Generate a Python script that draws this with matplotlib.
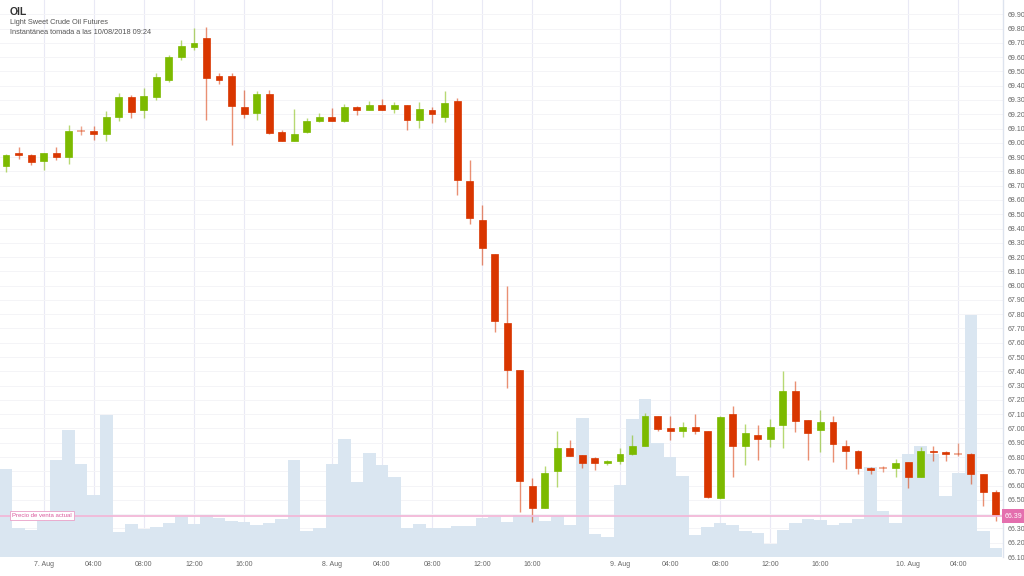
import matplotlib
matplotlib.use("Agg")
import matplotlib.pyplot as plt
import numpy as np

# hourly candles, 6 Aug 20:00 -> 10 Aug 07:00 (ordinal axis, daily break skipped)
opens = [68.84, 68.931, 68.912, 68.87, 68.931, 68.898, 69.08, 69.08, 69.059, 69.183,
         69.323, 69.232, 69.323, 69.442, 69.603, 69.673, 69.736, 69.47, 69.47, 69.25,
         69.209, 69.342, 69.073, 69.01, 69.076, 69.15, 69.181, 69.15, 69.25, 69.232,
         69.262, 69.239, 69.262, 69.162, 69.232, 69.181, 69.29, 68.735, 68.462, 68.222,
         67.739, 67.412, 66.60, 66.44, 66.70, 66.864, 66.813, 66.794, 66.76, 66.77,
         66.822, 66.876, 67.09, 67.0, 66.98, 67.011, 66.98, 66.514, 67.102, 66.88,
         66.957, 66.929, 67.022, 67.26, 67.057, 66.987, 67.043, 66.88, 66.845, 66.72,
         66.72, 66.72, 66.764, 66.659, 66.845, 66.833, 66.822, 66.822, 66.678, 66.554]
highs = [68.924, 68.973, 68.924, 68.931, 68.973, 69.122, 69.12, 69.12, 69.225, 69.351,
         69.337, 69.386, 69.491, 69.617, 69.722, 69.806, 69.813, 69.491, 69.491, 69.372,
         69.365, 69.372, 69.092, 69.239, 69.174, 69.209, 69.244, 69.274, 69.255, 69.295,
         69.309, 69.283, 69.267, 69.283, 69.25, 69.36, 69.314, 68.882, 68.562, 68.222,
         68.0, 67.412, 66.65, 66.736, 66.985, 66.922, 66.813, 66.80, 66.782, 66.864,
         66.953, 67.11, 67.09, 67.09, 67.043, 67.104, 66.98, 67.09, 67.16, 67.032,
         67.027, 67.069, 67.40, 67.335, 67.057, 67.132, 67.09, 66.922, 66.852, 66.731,
         66.74, 66.787, 66.764, 66.871, 66.88, 66.84, 66.899, 66.829, 66.678, 66.568]
lows = [68.793, 68.887, 68.842, 68.812, 68.882, 68.854, 69.052, 69.022, 69.015, 69.155,
        69.176, 69.176, 69.302, 69.428, 69.582, 69.652, 69.162, 69.414, 68.987, 69.174,
        69.162, 69.062, 69.01, 69.01, 69.069, 69.143, 69.15, 69.146, 69.192, 69.227,
        69.227, 69.209, 69.092, 69.104, 69.138, 69.146, 68.637, 68.434, 68.147, 67.676,
        67.284, 66.414, 66.344, 66.44, 66.591, 66.806, 66.724, 66.712, 66.743, 66.752,
        66.817, 66.876, 66.98, 66.922, 66.941, 66.962, 66.514, 66.514, 66.661, 66.743,
        66.778, 66.871, 66.864, 66.973, 66.778, 66.834, 66.766, 66.719, 66.683, 66.678,
        66.694, 66.661, 66.58, 66.659, 66.775, 66.775, 66.81, 66.614, 66.456, 66.35]
closes = [68.912, 68.912, 68.863, 68.931, 68.90, 69.08, 69.08, 69.059, 69.181, 69.323,
          69.217, 69.33, 69.463, 69.603, 69.68, 69.701, 69.456, 69.442, 69.26, 69.204,
          69.342, 69.069, 69.01, 69.064, 69.15, 69.181, 69.15, 69.25, 69.232, 69.262,
          69.232, 69.267, 69.162, 69.239, 69.204, 69.279, 68.742, 68.474, 68.264, 67.75,
          67.407, 66.631, 66.44, 66.69, 66.864, 66.806, 66.76, 66.76, 66.773, 66.822,
          66.88, 67.09, 66.997, 66.98, 67.011, 66.98, 66.521, 67.081, 66.88, 66.969,
          66.927, 67.011, 67.26, 67.05, 66.969, 67.043, 66.892, 66.84, 66.72, 66.708,
          66.72, 66.76, 66.661, 66.84, 66.833, 66.822, 66.822, 66.678, 66.554, 66.393]
volumes = [880, 290, 270, 363, 970, 1270, 930, 620, 1423, 250,
           330, 280, 300, 340, 400, 330, 420, 390, 360, 350,
           320, 340, 380, 970, 263, 290, 930, 1180, 750, 1043,
           920, 800, 290, 330, 293, 290, 310, 313, 393, 400,
           350, 420, 410, 360, 410, 320, 1390, 230, 200, 720,
           1380, 1580, 1140, 1000, 810, 223, 303, 340, 320, 263,
           243, 130, 270, 343, 377, 370, 320, 340, 380, 900,
           460, 343, 1030, 1113, 1030, 610, 840, 2420, 260, 90]

tick_pos = [3, 7, 11, 15, 19, 26, 30, 34, 38, 42, 49, 53, 57, 61, 65, 72, 76]
tick_labels = ["7. Aug", "04:00", "08:00", "12:00", "16:00", "8. Aug", "04:00", "08:00",
               "12:00", "16:00", "9. Aug", "04:00", "08:00", "12:00", "16:00", "10. Aug", "04:00"]
current_price = 66.39

GREEN = "#7cba00"
RED = "#d93600"
VOL = "#dae6f1"
PINK = "#e46fae"
plt.rcParams["font.family"] = ["Liberation Sans", "DejaVu Sans"]

fig = plt.figure(figsize=(10.24, 5.76), dpi=100)
rect = [0, 19 / 576, 1003 / 1024, 557 / 576]
xlim = (-0.48, 79.57)
ylim = (66.10, 70.0)

# base axis: grid + ticks
ax = fig.add_axes(rect)
ax.set_xlim(xlim)
ax.set_ylim(ylim)
ax.yaxis.tick_right()
yt = np.round(np.arange(66.1, 69.95, 0.1), 2)
ax.set_yticks(yt)
# 66.40 sits under the current-price tag
ax.set_yticklabels(["" if abs(v - 66.4) < 1e-6 else "%.2f" % v for v in yt])
ax.set_xticks(tick_pos)
ax.set_xticklabels(tick_labels)
ax.tick_params(axis="both", length=0, labelsize=5, labelcolor="#666666")
ax.tick_params(axis="y", pad=3)
ax.tick_params(axis="x", pad=3)
ax.grid(axis="y", color="#f4f4f7", lw=0.7)
ax.grid(axis="x", color="#e9e9f5", lw=0.8)
for s in ["top", "left", "bottom"]:
    ax.spines[s].set_visible(False)
ax.spines["right"].set_color("#dde3ee")
ax.spines["right"].set_linewidth(1)

# volume layer
axv = fig.add_axes(rect, sharex=ax)
axv.patch.set_visible(False)
axv.bar(np.arange(len(volumes)), volumes, width=1.0, color=VOL, linewidth=0)
axv.set_ylim(0, 5570)
axv.axis("off")

# candle layer
axc = fig.add_axes(rect, sharex=ax)
axc.patch.set_visible(False)
axc.set_ylim(ylim)
axc.axis("off")
for i in range(len(opens)):
    o, h, l, c = opens[i], highs[i], lows[i], closes[i]
    col = GREEN if c > o else RED
    if abs(c - o) < 0.002:
        axc.vlines(i, l, h, color=RED, alpha=0.45, lw=1)
        axc.hlines(o, i - 0.32, i + 0.32, color=RED, alpha=0.45, lw=1.2)
        continue
    axc.vlines(i, l, h, color=col, alpha=0.55, lw=1)
    axc.bar(i, abs(c - o), bottom=min(o, c), width=0.55, color=col,
            edgecolor=col, linewidth=0.5, alpha=1)

# current price line
axc.axhline(current_price, color="#f2b8d8", lw=1.3, zorder=5)
axc.text(0.5, current_price, "Precio de venta actual", fontsize=4.3, color="#d9589c",
         va="center", ha="left", zorder=6,
         bbox=dict(boxstyle="square,pad=0.35", fc="white", ec="#e9a0c8", lw=0.6))
fig.text(1013.5 / 1024, 1 - 516 / 576, "%.2f" % current_price, fontsize=5, color="white",
         ha="center", va="center",
         bbox=dict(boxstyle="square,pad=0.45", fc=PINK, ec=PINK, lw=0))

# titles
fig.text(10 / 1024, 1 - 12 / 576, "OIL", fontsize=7.5, fontweight="bold", color="#333333",
         va="center")
fig.text(10 / 1024, 1 - 23 / 576, "Light Sweet Crude Oil Futures", fontsize=5.3,
         color="#555555", va="center")
fig.text(10 / 1024, 1 - 32 / 576, "Instantánea tomada a las 10/08/2018 09:24", fontsize=5.3,
         color="#555555", va="center")

fig.savefig("out.png", dpi=100)
